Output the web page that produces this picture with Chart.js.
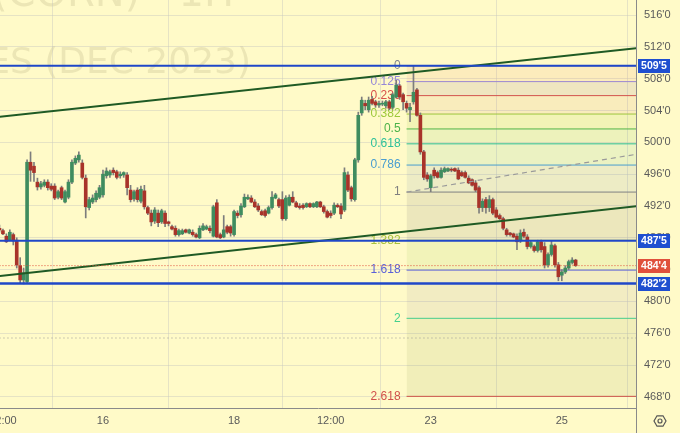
<!DOCTYPE html>
<html>
<head>
<meta charset="utf-8">
<script src="https://cdn.jsdelivr.net/npm/chart.js@4.4.0/dist/chart.umd.min.js"></script>
<style>
  html, body { margin: 0; padding: 0; background: #fffac8; }
  #wrap { width: 680px; height: 433px; }
</style>
</head>
<body>
<div id="wrap"><canvas id="price-chart" width="680" height="433"></canvas></div>
<script>
// 1H candles (index = candle number)
const opens = [
  489.2, 488.9, 488.2, 487.7, 488.4, 487.7, 484.5, 482.7, 482.5, 497.5,
  497.0, 495.0, 494.4, 494.6, 495.0, 494.5, 494.5, 493.1, 494.3, 492.5,
  493.1, 495.0, 497.4, 497.8, 497.4, 495.5, 491.8, 492.5, 492.8, 493.1,
  493.4, 495.8, 495.9, 496.5, 496.3, 495.8, 495.9, 495.9, 494.0, 492.9,
  494.0, 492.6, 493.9, 491.8, 491.1, 490.1, 491.1, 490.0, 491.1, 490.0,
  489.4, 489.2, 488.4, 488.5, 489.0, 488.6, 488.7, 488.4, 488.0, 489.0,
  489.1, 489.2, 488.2, 492.4, 488.4, 488.1, 489.4, 489.4, 488.4, 491.1,
  490.9, 491.9, 492.9, 493.0, 492.5, 492.0, 491.3, 491.4, 491.1, 491.8,
  493.0, 492.8, 492.8, 490.4, 492.1, 493.1, 492.4, 492.0, 492.1, 491.9,
  492.3, 491.9, 491.9, 492.5, 491.9, 491.3, 491.1, 491.1, 492.1, 492.0,
  491.5, 495.9, 494.3, 492.8, 497.8, 503.7, 504.9, 504.1, 505.4, 505.1,
  504.7, 504.8, 504.6, 505.1, 504.4, 505.7, 507.1, 506.0, 504.9, 504.1,
  505.1, 506.6, 503.4, 498.8, 495.9, 494.3, 496.5, 496.2, 495.6, 496.3,
  496.4, 496.6, 496.7, 496.5, 496.2, 496.2, 495.5, 495.3, 494.9, 494.3,
  491.8, 492.8, 491.8, 492.8, 491.5, 490.8, 490.4, 489.0, 488.6, 488.5,
  488.2, 487.6, 488.7, 488.1, 486.9, 486.9, 486.4, 487.5, 486.9, 484.6,
  485.9, 487.0, 484.6, 483.3, 483.7, 484.2, 484.9, 485.2
];
const highs = [
  489.6, 489.1, 488.5, 489.0, 488.6, 488.0, 485.5, 484.2, 497.8, 498.8,
  497.5, 495.5, 495.1, 495.3, 495.3, 494.8, 494.8, 494.0, 494.5, 494.0,
  495.3, 497.8, 498.3, 498.8, 497.8, 495.9, 493.1, 493.4, 493.9, 494.6,
  496.5, 496.8, 496.5, 496.8, 496.5, 496.3, 496.3, 496.2, 494.6, 494.0,
  494.3, 494.5, 494.6, 492.0, 491.5, 491.8, 491.5, 491.6, 491.4, 490.1,
  489.6, 489.5, 489.1, 489.1, 489.1, 489.1, 489.0, 488.6, 489.5, 489.8,
  489.6, 489.5, 492.1, 492.8, 488.6, 490.8, 489.6, 489.6, 491.5, 491.4,
  492.3, 493.5, 493.4, 493.3, 492.8, 492.3, 491.5, 491.6, 492.0, 493.8,
  493.6, 493.0, 493.8, 493.3, 493.4, 493.8, 492.6, 492.3, 492.3, 492.4,
  492.4, 492.4, 492.6, 492.6, 492.1, 491.5, 491.4, 492.4, 492.3, 492.3,
  496.8, 496.3, 494.5, 498.0, 503.8, 505.7, 505.3, 505.7, 505.8, 505.3,
  505.2, 505.2, 505.3, 505.3, 506.2, 507.8, 507.3, 506.2, 505.2, 504.9,
  509.6, 506.8, 503.7, 499.0, 496.2, 496.0, 496.8, 496.4, 496.8, 496.9,
  496.8, 496.8, 496.8, 496.8, 496.4, 496.4, 495.8, 495.4, 495.2, 494.5,
  492.9, 493.1, 493.3, 493.0, 491.8, 491.0, 490.6, 489.2, 488.7, 488.6,
  488.5, 489.0, 489.1, 488.4, 487.6, 487.1, 487.7, 487.7, 487.4, 486.1,
  487.6, 487.2, 484.9, 484.0, 484.5, 485.2, 485.5, 485.3
];
const lows = [
  488.7, 488.4, 487.4, 487.6, 487.1, 484.2, 482.3, 482.2, 482.3, 495.1,
  495.1, 494.0, 494.1, 494.4, 494.0, 493.9, 492.8, 492.9, 492.8, 492.4,
  492.9, 494.8, 497.2, 497.5, 495.4, 490.5, 491.5, 492.3, 492.5, 492.9,
  493.1, 495.5, 495.6, 495.9, 495.4, 495.5, 495.6, 493.4, 492.5, 492.6,
  492.5, 492.4, 491.6, 490.9, 489.5, 489.8, 489.4, 489.8, 489.4, 489.5,
  489.0, 488.2, 488.2, 488.4, 488.6, 488.5, 488.2, 488.0, 487.9, 488.9,
  489.0, 488.6, 488.1, 488.0, 487.9, 488.0, 488.5, 488.2, 488.2, 490.5,
  490.6, 491.8, 492.8, 492.4, 491.8, 491.3, 490.8, 490.6, 491.0, 491.6,
  492.9, 491.8, 490.2, 490.2, 492.0, 492.4, 491.8, 491.6, 491.6, 491.8,
  491.8, 491.8, 491.8, 491.8, 491.1, 490.5, 490.5, 490.9, 491.8, 490.4,
  491.3, 493.8, 492.6, 492.6, 497.5, 503.4, 504.1, 503.8, 504.7, 504.4,
  504.4, 504.6, 504.3, 504.1, 504.2, 505.6, 505.4, 504.1, 503.8, 502.6,
  504.8, 503.3, 498.5, 495.3, 495.1, 493.8, 495.5, 495.5, 495.5, 496.2,
  496.3, 496.3, 496.3, 495.3, 495.7, 495.5, 494.8, 494.5, 493.8, 491.1,
  491.3, 491.1, 491.3, 490.9, 490.5, 490.3, 489.0, 488.2, 488.2, 488.0,
  486.5, 487.4, 488.0, 486.6, 486.7, 486.2, 486.2, 486.2, 484.2, 484.3,
  485.7, 484.3, 482.6, 482.6, 483.5, 484.0, 484.7, 484.4
];
const closes = [
  489.0, 488.5, 487.5, 488.7, 487.6, 484.6, 482.7, 483.6, 497.5, 496.5,
  496.2, 494.4, 494.8, 495.0, 494.3, 494.1, 493.0, 493.8, 493.0, 493.8,
  495.0, 497.5, 498.0, 498.4, 495.6, 491.9, 492.8, 493.0, 493.6, 494.3,
  496.0, 496.4, 496.3, 496.2, 495.6, 496.0, 496.2, 494.3, 492.8, 493.8,
  492.8, 494.1, 491.9, 491.1, 490.0, 491.5, 489.9, 491.4, 489.8, 489.8,
  489.1, 488.4, 488.9, 488.9, 488.7, 489.0, 488.4, 488.1, 489.2, 489.5,
  489.4, 488.9, 491.9, 488.1, 488.0, 489.0, 488.7, 488.6, 491.3, 490.8,
  492.0, 493.1, 493.1, 492.5, 491.9, 491.5, 490.9, 490.8, 491.8, 493.1,
  493.4, 492.0, 490.4, 493.0, 493.1, 492.5, 491.9, 491.8, 491.8, 492.3,
  491.9, 492.3, 492.5, 491.9, 491.3, 490.6, 490.8, 492.1, 491.9, 491.0,
  496.2, 494.0, 492.9, 497.8, 503.4, 505.3, 504.6, 505.3, 504.9, 504.7,
  504.9, 504.9, 505.1, 504.3, 506.0, 507.2, 505.7, 505.1, 504.3, 504.4,
  506.3, 503.4, 498.8, 495.6, 495.4, 495.8, 495.8, 495.6, 496.5, 496.7,
  496.7, 496.5, 496.4, 495.4, 495.8, 495.6, 494.9, 494.6, 494.0, 491.8,
  492.6, 491.8, 492.8, 491.1, 490.6, 490.4, 489.2, 488.4, 488.4, 488.1,
  487.5, 488.6, 488.2, 486.9, 487.4, 486.4, 487.5, 486.5, 484.6, 485.9,
  487.1, 484.6, 483.1, 483.7, 484.2, 485.0, 485.2, 484.5
];

// time axis labels sit on these candles
const xTickIdx = [1, 30, 68, 96, 125, 163];
const xTickLabels = ["12:00", "16", "18", "12:00", "23", "25"];

// fib retracement drawn from the swing high
const fibRatios = [0, 0.125, 0.236, 0.382, 0.5, 0.618, 0.786, 1, 1.382, 1.618, 2, 2.618];
const fibLabels = ["0", "0.125", "0.236", "0.382", "0.5", "0.618", "0.786", "1", "1.382", "1.618", "2", "2.618"];
const fibHigh = 509.625;
const fibLow = 493.75;
const fibRange = [118, 186];

// user drawn lines
const blueLevels = [509.625, 487.625, 482.25];
const lastPrice = 484.5;
const dottedLevel = 475.4;
const upperTrend = [{ x: 0, y: 503.2 }, { x: 186, y: 511.9 }];
const lowerTrend = [{ x: 0, y: 483.2 }, { x: 186, y: 492.05 }];
const dashedTrend = [{ x: 118, y: 493.75 }, { x: 186, y: 498.6 }];

// price-scale badges
const badges = [
  { value: 509.625, text: "509'5", color: "#1f4fd0" },
  { value: 487.625, text: "487'5", color: "#1f4fd0" },
  { value: 484.5, text: "484'4", color: "#e0503c" },
  { value: 482.25, text: "482'2", color: "#1f4fd0" },
];

const fibColors = ["#808390", "#9587d8", "#d8504a", "#9cc83a", "#4cb24a", "#2fc09a", "#4a9ed0", "#808080", "#a8c23c", "#5a60d8", "#45d08e", "#d0504a"];
const fibFills = [
  "rgba(235,150,110,0.13)", "rgba(140,115,150,0.14)", "rgba(200,120,90,0.10)", "rgba(150,200,60,0.12)",
  "rgba(80,180,80,0.10)", "rgba(60,180,150,0.10)", "rgba(90,130,170,0.11)", "rgba(110,110,110,0.13)",
  "rgba(140,190,60,0.11)", "rgba(130,120,150,0.10)", "rgba(130,150,60,0.11)",
];

const GREEN = "#3f8c5f";
const RED = "#a8332a";
const BG = "#fffac8";
const FONT = "'Liberation Sans', 'DejaVu Sans', sans-serif";

const fibPrice = (r) => fibHigh - r * (fibHigh - fibLow);

function hLine(value, color, width, dash) {
  return {
    type: "line",
    data: [{ x: 0, y: value }, { x: 186, y: value }],
    borderColor: color,
    borderWidth: width,
    borderDash: dash || [],
    pointRadius: 0,
    fill: false,
    order: 1,
  };
}

function segLine(points, color, width, dash) {
  return {
    type: "line",
    data: points,
    borderColor: color,
    borderWidth: width,
    borderDash: dash || [],
    pointRadius: 0,
    fill: false,
    order: 1,
  };
}

const datasets = [];

// fib bands, each level line fills down to the next one
fibRatios.forEach((r, k) => {
  const p = fibPrice(r);
  datasets.push({
    type: "line",
    data: [{ x: fibRange[0], y: p }, { x: fibRange[1], y: p }],
    borderColor: fibColors[k],
    borderWidth: 1,
    pointRadius: 0,
    fill: k < fibRatios.length - 1 ? { value: fibPrice(fibRatios[k + 1]) } : false,
    backgroundColor: fibFills[k] || "transparent",
    order: 6,
  });
});

// wicks
datasets.push({
  type: "bar",
  data: opens.map((o, i) => ({ x: i, y: [lows[i], highs[i]] })),
  backgroundColor: "#7d7d7d",
  barThickness: 1,
  grouped: false,
  order: 4,
});

// bodies
datasets.push({
  type: "bar",
  data: opens.map((o, i) => ({ x: i, y: [o, closes[i]] })),
  backgroundColor: opens.map((o, i) => (closes[i] >= o ? GREEN : RED)),
  barThickness: 3,
  minBarLength: 1,
  grouped: false,
  order: 3,
});

datasets.push(hLine(dottedLevel, "#9a9a9a", 1, [1, 3]));
datasets.push(segLine(dashedTrend, "#9a9a9a", 1.2, [5, 4]));
datasets.push(hLine(lastPrice, "#e0503c", 1, [1, 2]));
datasets.push(hLine(blueLevels[0], "#1f47c8", 2));
datasets.push(hLine(blueLevels[1], "#1f47c8", 2));
datasets.push(hLine(blueLevels[2], "#1f47c8", 2.5));
datasets.push(segLine(upperTrend, "#1f5a24", 2));
datasets.push(segLine(lowerTrend, "#1f5a24", 2));

const paintPlugin = {
  id: "paint",
  beforeDraw(chart) {
    const c = chart.ctx;
    c.save();
    c.fillStyle = BG;
    c.fillRect(0, 0, chart.width, chart.height);
    // watermark, partly outside the canvas like the original
    c.fillStyle = "rgba(120,110,70,0.14)";
    c.textAlign = "right";
    c.textBaseline = "alphabetic";
    c.font = "40px 'DejaVu Sans', sans-serif";
    c.fillText("ZCZ2023 (CORN) · 1H", 234, 6);
    c.font = "36px 'DejaVu Sans', sans-serif";
    c.fillText("CORN FUTURES (DEC 2023)", 251, 73);
    c.restore();
  },
  beforeDatasetsDraw(chart) {
    const c = chart.ctx;
    const xs = chart.scales.x;
    const ys = chart.scales.y;
    const x = xs.getPixelForValue(fibRange[0]) - 6;
    c.save();
    c.font = "12px " + FONT;
    c.textAlign = "right";
    c.textBaseline = "middle";
    fibRatios.forEach((r, k) => {
      c.fillStyle = fibColors[k];
      c.fillText(fibLabels[k], x, ys.getPixelForValue(fibPrice(r)));
    });
    c.restore();
  },
  afterDraw(chart) {
    const c = chart.ctx;
    const ys = chart.scales.y;
    const right = chart.chartArea.right;
    c.save();
    // axis divider runs to the bottom
    c.strokeStyle = "#8a8a8a";
    c.lineWidth = 1;
    c.beginPath();
    c.moveTo(right + 0.5, chart.chartArea.bottom);
    c.lineTo(right + 0.5, chart.height);
    c.stroke();
    badges.forEach((b) => {
      const y = ys.getPixelForValue(b.value);
      c.fillStyle = b.color;
      c.fillRect(right + 2, Math.round(y) - 7, 32, 14);
      c.fillStyle = "#ffffff";
      c.font = "bold 10.5px " + FONT;
      c.textAlign = "center";
      c.textBaseline = "middle";
      c.fillText(b.text, right + 18, Math.round(y) + 0.5);
    });
    // settings icon
    const gx = 660, gy = 421;
    c.strokeStyle = "#555";
    c.lineWidth = 1.2;
    c.beginPath();
    for (let k = 0; k < 6; k++) {
      const a = Math.PI / 3 * k;
      const px = gx + 6 * Math.cos(a), py = gy + 6 * Math.sin(a);
      if (k === 0) c.moveTo(px, py); else c.lineTo(px, py);
    }
    c.closePath();
    c.stroke();
    c.beginPath();
    c.arc(gx, gy, 2, 0, Math.PI * 2);
    c.stroke();
    c.restore();
  },
};

const ctx = document.getElementById("price-chart");
new Chart(ctx, {
  type: "bar",
  data: { datasets: datasets },
  options: {
    responsive: false,
    animation: false,
    layout: { padding: 0 },
    plugins: {
      legend: { display: false },
      tooltip: { enabled: false },
    },
    scales: {
      x: {
        type: "linear",
        min: 0.15,
        max: 184.5,
        offset: false,
        grid: { color: "rgba(200,200,190,0.45)", drawTicks: false },
        border: { color: "#8a8a8a" },
        ticks: {
          color: "#5a5a5a",
          font: { size: 11, family: FONT },
          padding: 6,
          maxRotation: 0,
          autoSkip: false,
          callback: (value, index) => xTickLabels[index],
        },
        afterBuildTicks: (scale) => {
          scale.ticks = xTickIdx.map((v) => ({ value: v }));
        },
        afterFit: (scale) => {
          scale.height = 25;
          scale.paddingLeft = 0;
          scale.paddingRight = 0;
        },
      },
      y: {
        position: "right",
        min: 466.6,
        max: 517.9,
        grid: { color: "rgba(200,200,190,0.45)", drawTicks: false },
        border: { color: "#8a8a8a" },
        ticks: {
          stepSize: 4,
          includeBounds: false,
          color: "#5a5a5a",
          font: { size: 11, family: FONT },
          padding: 8,
          callback: (value) => value + "'0",
        },
        afterFit: (scale) => {
          scale.width = 44;
          scale.paddingTop = 0;
          scale.paddingBottom = 0;
        },
      },
    },
  },
  plugins: [paintPlugin],
});
</script>
</body>
</html>
